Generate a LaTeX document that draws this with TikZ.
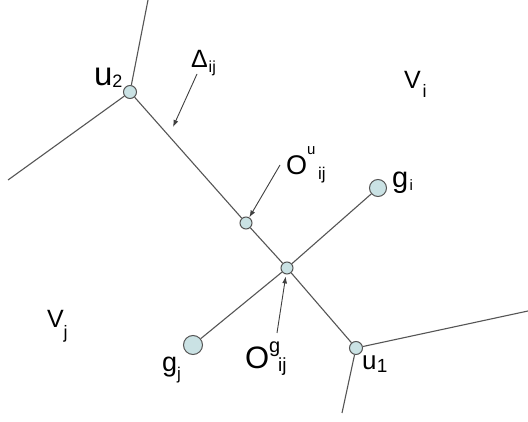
\documentclass[tikz,border=0pt]{standalone}
\usepackage{fontspec}
\setmainfont{Liberation Sans}
\usetikzlibrary{arrows.meta}
\definecolor{dotfill}{RGB}{202,226,228}
\definecolor{edgec}{RGB}{85,85,85}
\newcommand{\fs}[1]{\fontsize{#1}{#1}\selectfont}
\tikzset{
  pt/.style={circle, draw=edgec, line width=1pt, fill=dotfill, inner sep=0pt, minimum size=#1},
  edge/.style={draw=edgec, line width=1.1pt},
  ptr/.style={draw=black!75, line width=0.9pt, -{Latex[length=7pt,width=5pt]}},
  lbl/.style={anchor=base west, inner sep=0pt, outer sep=0pt}
}
\begin{document}
\begin{tikzpicture}[x=1pt,y=-1pt]
\fill[white] (0,0) rectangle (528,422);
\useasboundingbox (0,0) rectangle (528,422);
% free ends
\coordinate (top) at (148,0);
\coordinate (left) at (8,180);
\coordinate (right) at (528,311);
\coordinate (bottom) at (342,413);
% points
\node[pt=13pt] (u2) at (130,92) {};
\node[pt=12pt] (ou) at (246,223) {};
\node[pt=12pt] (og) at (287,268) {};
\node[pt=13pt] (u1) at (356,348) {};
\node[pt=17pt] (gi) at (378,188) {};
\node[pt=19pt] (gj) at (193,345) {};
% edges
\draw[edge] (u2) -- (top);
\draw[edge] (u2) -- (left);
\draw[edge] (u2) -- (ou);
\draw[edge] (ou) -- (og);
\draw[edge] (og) -- (u1);
\draw[edge] (u1) -- (right);
\draw[edge] (u1) -- (bottom);
\draw[edge] (gi) -- (og);
\draw[edge] (og) -- (gj);
% labels
\node[lbl] (lu2) at (94,86) {\fs{33}u\raisebox{-2pt}{\fs{18}2}};
\node[lbl] (lu1) at (362,370) {\fs{26}u\hspace{0.5pt}\raisebox{-3pt}{\fs{19}1}};
\node[lbl] (ldelta) at (191,68) {\fs{25}Δ\hspace{1pt}\raisebox{-5pt}{\fs{16}ij}};
\node[lbl] (lou) at (286,175) {\fs{27}O\rlap{\raisebox{20pt}{\fs{15}u}}\hspace{11pt}\raisebox{-5pt}{\fs{17}ij}};
\node[lbl] (log) at (245,368) {\fs{31}O\rlap{\raisebox{16pt}{\fs{20}g}}\hspace{9pt}\raisebox{-4pt}{\fs{19}ij}};
\node[lbl] (lgi) at (392,188) {\fs{29}g\hspace{1.5pt}\raisebox{-3pt}{\fs{15}i}};
\node[lbl] (lgj) at (162,372) {\fs{27}g\raisebox{-8pt}{\fs{17}j}};
\node[lbl] (lvi) at (404,89) {\fs{25}V\hspace{2pt}\raisebox{-9pt}{\fs{18}i}};
\node[lbl] (lvj) at (47,328) {\fs{25}V\raisebox{-11pt}{\fs{18}j}};
% pointer arrows
\coordinate (ad) at (197,74);
\coordinate (adend) at (173,127);
\coordinate (aou) at (280,165);
\coordinate (aog) at (277,333);
\draw[ptr] (ad) -- (adend);
\draw[ptr] (aou) -- (ou);
\draw[ptr, shorten >=2pt] (aog) -- (og);
\end{tikzpicture}
\end{document}
